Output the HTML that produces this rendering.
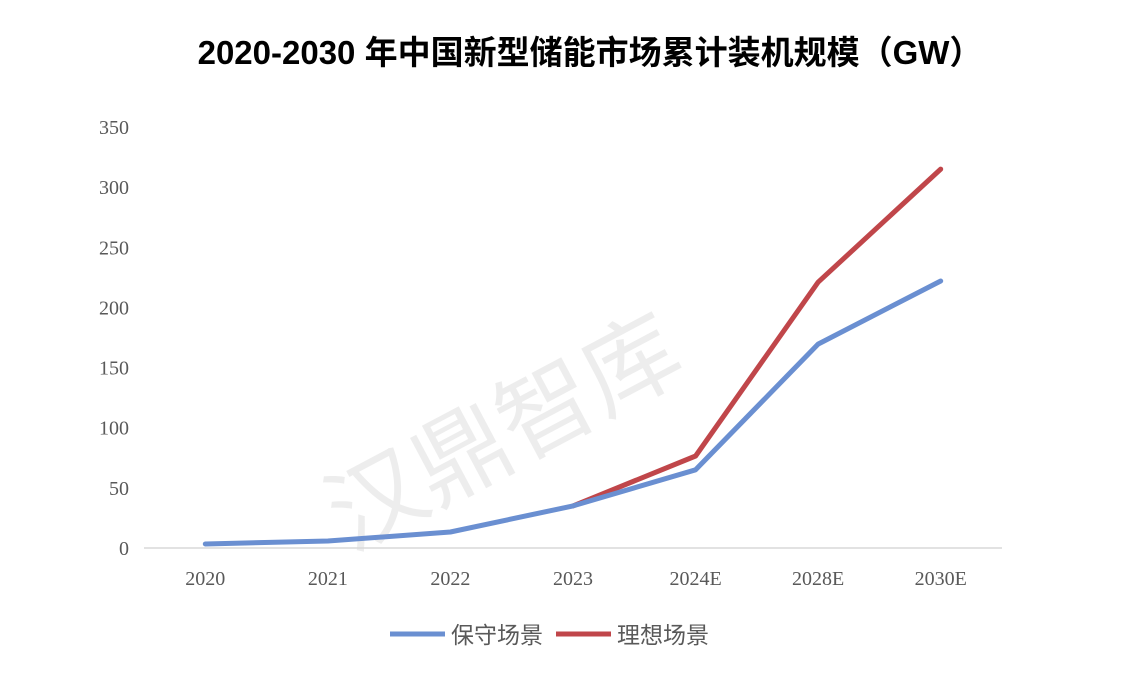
<!DOCTYPE html>
<html><head><meta charset="utf-8">
<style>
html,body{margin:0;padding:0;background:#fff;width:1142px;height:697px;overflow:hidden}
svg{display:block}
</style></head>
<body>
<svg id="chart" width="1142" height="697" xmlns="http://www.w3.org/2000/svg">
<text x="590" y="64" text-anchor="middle" font-family="'Liberation Sans','Noto Sans CJK SC',sans-serif" font-weight="bold" font-size="33" fill="#000">2020-2030 年中国新型储能市场累计装机规模（GW）</text>
<text x="0" y="0" transform="translate(350,552) rotate(-28)" font-family="'Noto Sans CJK SC',sans-serif" font-size="96" fill="#000" fill-opacity="0.07">汉鼎智库</text>
<g id="axes"></g>
<g id="series"></g>
<g>
<line x1="390" y1="634" x2="445" y2="634" stroke="#6a8fd1" stroke-width="5"/>
<text x="451" y="643" font-family="'Liberation Sans','Noto Sans CJK SC',sans-serif" font-size="23" fill="#595959">保守场景</text>
<line x1="556" y1="634" x2="611" y2="634" stroke="#c0464a" stroke-width="5"/>
<text x="617" y="643" font-family="'Liberation Sans','Noto Sans CJK SC',sans-serif" font-size="23" fill="#595959">理想场景</text>
</g>
</svg>
<script>
const categories = ["2020","2021","2022","2023","2024E","2028E","2030E"];
const conservative = [3.3, 5.8, 13.3, 35, 65, 169.5, 222];
const ideal = [null, null, null, 35, 76.5, 221, 315];
const yTicks = [0,50,100,150,200,250,300,350];

const NS="http://www.w3.org/2000/svg";
const x0=144, x1=1002, y0=548, y1=127, yMax=350;
const step=(x1-x0)/categories.length;
function xPos(i){return x0+step*(i+0.5);}
function yPos(v){return y0-(v/yMax)*(y0-y1);}
const axes=document.getElementById('axes');
yTicks.forEach(t=>{
  const tx=document.createElementNS(NS,'text');
  tx.setAttribute('x',129);tx.setAttribute('y',yPos(t)+7);
  tx.setAttribute('text-anchor','end');tx.setAttribute('font-family',"'Liberation Serif',serif");
  tx.setAttribute('font-size','20');tx.setAttribute('fill','#595959');
  tx.textContent=t;
  
  
  axes.appendChild(tx);
});
const ax=document.createElementNS(NS,'line');
ax.setAttribute('x1',x0);ax.setAttribute('x2',x1);ax.setAttribute('y1',y0);ax.setAttribute('y2',y0);
ax.setAttribute('stroke','#d9d9d9');ax.setAttribute('stroke-width','1.5');


axes.appendChild(ax);
categories.forEach((c,i)=>{
  const tx=document.createElementNS(NS,'text');
  tx.setAttribute('x',xPos(i));tx.setAttribute('y',585);
  tx.setAttribute('text-anchor','middle');tx.setAttribute('font-family',"'Liberation Serif',serif");
  tx.setAttribute('font-size','20');tx.setAttribute('fill','#595959');
  tx.textContent=c;
  
  
  axes.appendChild(tx);
});
const series=document.getElementById('series');
function drawLine(vals,color,name){
  const pts=[];vals.forEach((v,i)=>{if(v!==null)pts.push(xPos(i).toFixed(1)+','+yPos(v).toFixed(1));});
  const pl=document.createElementNS(NS,'polyline');
  pl.setAttribute('points',pts.join(' '));pl.setAttribute('fill','none');
  pl.setAttribute('stroke',color);pl.setAttribute('stroke-width','5');
  pl.setAttribute('stroke-linejoin','round');pl.setAttribute('stroke-linecap','round');
  
  
  series.appendChild(pl);
}
drawLine(ideal,'#c0464a','ideal-scenario-line');
drawLine(conservative,'#6a8fd1','conservative-scenario-line');
</script>
</body></html>
